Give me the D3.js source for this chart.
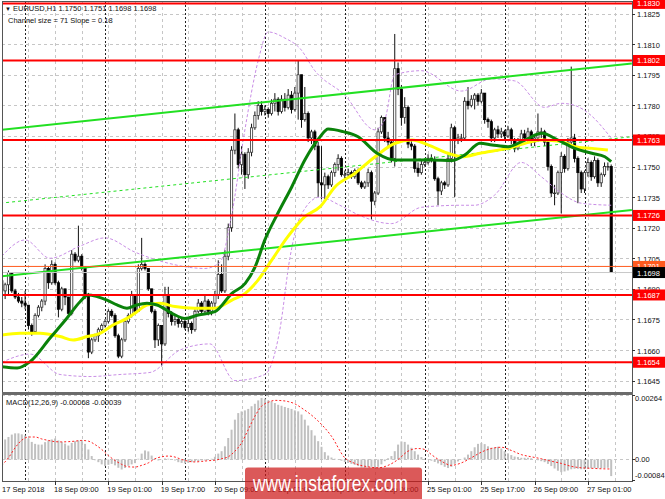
<!DOCTYPE html>
<html><head><meta charset="utf-8">
<script src="https://cdn.jsdelivr.net/npm/d3@7"></script>
<style>body{margin:0;background:#fff}svg{display:block}text{font-family:"Liberation Sans",Arial,sans-serif}</style>
</head><body><svg id="c" width="665" height="499"></svg>
<script>
// ---------- DATA ----------
const firstOpen = 1.1694;
const closes = [1.1689,1.1692,1.1698,1.1689,1.1686,1.1684,1.1683,1.1682,1.1672,1.1669,1.1677,1.1681,1.1684,1.1700,1.1693,1.1702,1.1693,1.1680,1.1690,1.1686,
1.1678,1.1707,1.1704,1.1706,1.1700,1.1687,1.1659,1.1665,1.1667,1.1670,1.1672,1.1674,1.1679,1.1677,1.1667,1.1657,1.1665,1.1674,1.1677,1.1687,
1.1679,1.1700,1.1702,1.1700,1.1690,1.1679,1.1665,1.1672,1.1663,1.1687,1.1678,1.1674,1.1675,1.1673,1.1674,1.1671,1.1673,1.1670,1.1679,1.1683,
1.1679,1.1684,1.1679,1.1683,1.1687,1.1697,1.1689,1.1706,1.1720,1.1758,1.1768,1.1751,1.1756,1.1746,1.1757,1.1769,1.1775,1.1780,1.1777,1.1778,
1.1776,1.1781,1.1783,1.1777,1.1783,1.1779,1.1785,1.1778,1.1786,1.1795,1.1773,1.1776,1.1764,1.1767,1.1760,1.1742,1.1741,1.1745,1.1741,1.1747,
1.1751,1.1754,1.1746,1.1746,1.1747,1.1745,1.1748,1.1742,1.1740,1.1742,1.1747,1.1733,1.1737,1.1767,1.1774,1.1764,1.1762,1.1754,1.1798,1.1788,
1.1774,1.1779,1.1761,1.1760,1.1749,1.1747,1.1751,1.1752,1.1754,1.1753,1.1744,1.1738,1.1742,1.1741,1.1754,1.1769,1.1763,1.1764,1.1764,1.1782,
1.1780,1.1783,1.1785,1.1782,1.1786,1.1773,1.1772,1.1764,1.1768,1.1766,1.1767,1.1765,1.1768,1.1763,1.1759,1.1763,1.1766,1.1764,1.1767,1.1762,
1.1764,1.1767,1.1767,1.1762,1.1750,1.1737,1.1737,1.1747,1.1755,1.1749,1.1762,1.1764,1.1754,1.1747,1.1739,1.1747,1.1752,1.1745,1.1753,1.1742,
1.1746,1.1750,1.1750,1.1698];
const highs = [1.1696,1.1693,1.1699,1.1697,1.1690,1.1688,1.1686,1.1689,1.1682,1.1673,1.1678,1.1682,1.1685,1.1702,1.1701,1.1704,1.1703,1.1694,1.1691,1.1690,
1.1686,1.1709,1.1708,1.1721,1.1707,1.1701,1.1688,1.1666,1.1668,1.1671,1.1673,1.1675,1.1680,1.1680,1.1678,1.1668,1.1666,1.1675,1.1678,1.1689,
1.1686,1.1702,1.1715,1.1703,1.1700,1.1690,1.1680,1.1673,1.1672,1.1691,1.1691,1.1679,1.1677,1.1676,1.1676,1.1675,1.1675,1.1674,1.1680,1.1685,
1.1684,1.1687,1.1685,1.1684,1.1689,1.1704,1.1702,1.1709,1.1722,1.1760,1.1776,1.1769,1.1760,1.1757,1.1759,1.1771,1.1777,1.1782,1.1782,1.1780,
1.1779,1.1783,1.1786,1.1784,1.1785,1.1786,1.1788,1.1787,1.1789,1.1802,1.1795,1.1789,1.1777,1.1768,1.1768,1.1762,1.1760,1.1747,1.1746,1.1748,
1.1752,1.1756,1.1755,1.1748,1.1749,1.1748,1.1749,1.1749,1.1743,1.1743,1.1749,1.1748,1.1738,1.1769,1.1775,1.1774,1.1767,1.1763,1.1815,1.1801,
1.1790,1.1784,1.1780,1.1763,1.1761,1.1752,1.1753,1.1754,1.1756,1.1756,1.1755,1.1745,1.1743,1.1743,1.1756,1.1771,1.1770,1.1766,1.1766,1.1784,
1.1789,1.1785,1.1786,1.1786,1.1788,1.1786,1.1774,1.1773,1.1769,1.1770,1.1769,1.1768,1.1770,1.1769,1.1764,1.1764,1.1768,1.1768,1.1769,1.1768,
1.1766,1.1776,1.1769,1.1768,1.1763,1.1751,1.1741,1.1748,1.1757,1.1756,1.1764,1.1799,1.1766,1.1755,1.1748,1.1748,1.1754,1.1753,1.1755,1.1754,
1.1747,1.1752,1.1752,1.1751];
const lows = [1.1687,1.1685,1.1687,1.1688,1.1685,1.1683,1.1681,1.1680,1.1670,1.1667,1.1668,1.1676,1.1679,1.1682,1.1690,1.1692,1.1692,1.1676,1.1679,1.1682,
1.1676,1.1677,1.1703,1.1703,1.1699,1.1685,1.1656,1.1658,1.1664,1.1664,1.1669,1.1671,1.1673,1.1676,1.1666,1.1656,1.1656,1.1664,1.1673,1.1676,
1.1678,1.1679,1.1699,1.1699,1.1689,1.1678,1.1661,1.1662,1.1652,1.1662,1.1676,1.1672,1.1672,1.1671,1.1671,1.1670,1.1669,1.1668,1.1669,1.1678,
1.1677,1.1678,1.1677,1.1677,1.1681,1.1685,1.1688,1.1688,1.1704,1.1718,1.1756,1.1749,1.1746,1.1739,1.1744,1.1755,1.1768,1.1773,1.1775,1.1775,
1.1774,1.1775,1.1777,1.1775,1.1776,1.1777,1.1778,1.1776,1.1777,1.1773,1.1769,1.1772,1.1762,1.1761,1.1758,1.1735,1.1734,1.1734,1.1739,1.1740,
1.1745,1.1748,1.1745,1.1744,1.1745,1.1744,1.1744,1.1741,1.1739,1.1739,1.1740,1.1724,1.1731,1.1736,1.1766,1.1762,1.1759,1.1752,1.1750,1.1785,
1.1770,1.1771,1.1759,1.1758,1.1747,1.1745,1.1746,1.1750,1.1751,1.1752,1.1743,1.1731,1.1736,1.1739,1.1740,1.1752,1.1735,1.1761,1.1762,1.1763,
1.1778,1.1779,1.1778,1.1780,1.1781,1.1771,1.1769,1.1762,1.1762,1.1764,1.1764,1.1763,1.1764,1.1761,1.1757,1.1758,1.1762,1.1763,1.1762,1.1760,
1.1760,1.1762,1.1764,1.1760,1.1748,1.1735,1.1731,1.1736,1.1727,1.1747,1.1748,1.1759,1.1752,1.1732,1.1737,1.1737,1.1745,1.1743,1.1744,1.1740,
1.1740,1.1745,1.1748,1.1698];

// MACD(12,26,9) main (histogram) and signal [bar, value]
const macdMain = [0.00068,0.00082,0.00092,0.00102,0.00107,0.00107,0.00103,0.00098,0.00086,0.00072,0.00064,0.00061,0.00061,0.00071,0.00078,0.00082,0.00086,0.00078,0.00072,0.00065,
0.00057,0.00068,0.00075,0.00078,0.00079,0.00064,0.00041,0.00014,-0.00003,-0.00011,-0.00020,-0.00027,-0.00022,-0.00018,-0.00024,-0.00034,-0.00041,-0.00035,-0.00026,-0.00020,
-0.00015,0.00003,0.00024,0.00037,0.00033,0.00016,0.00003,-0.00004,-0.00001,0.00004,0.00003,0.00000,-0.00004,-0.00011,-0.00014,-0.00016,-0.00014,-0.00011,-0.00008,-0.00007,
-0.00004,-0.00004,0.00000,0.00003,0.00011,0.00024,0.00034,0.00054,0.00088,0.00122,0.00163,0.00190,0.00197,0.00201,0.00207,0.00218,0.00228,0.00242,0.00252,0.00249,
0.00242,0.00238,0.00231,0.00224,0.00220,0.00215,0.00211,0.00207,0.00201,0.00197,0.00184,0.00163,0.00139,0.00120,0.00098,0.00075,0.00052,0.00030,0.00016,0.00008,
0.00003,-0.00001,-0.00005,-0.00010,-0.00014,-0.00018,-0.00022,-0.00027,-0.00033,-0.00034,-0.00031,-0.00030,-0.00033,-0.00030,-0.00020,-0.00007,0.00005,0.00014,0.00034,0.00061,
0.00074,0.00072,0.00061,0.00048,0.00034,0.00020,0.00010,0.00003,-0.00001,-0.00005,-0.00010,-0.00016,-0.00023,-0.00030,-0.00035,-0.00030,-0.00018,-0.00008,-0.00001,0.00008,
0.00020,0.00034,0.00050,0.00064,0.00068,0.00063,0.00054,0.00048,0.00049,0.00052,0.00045,0.00034,0.00025,0.00018,0.00012,0.00010,0.00007,0.00007,0.00007,0.00005,
0.00000,-0.00003,-0.00007,-0.00011,-0.00018,-0.00027,-0.00037,-0.00046,-0.00052,-0.00049,-0.00045,-0.00040,-0.00038,-0.00038,-0.00040,-0.00040,-0.00038,-0.00036,-0.00035,-0.00036,
-0.00036,-0.00035,-0.00034,-0.00068];
const macdSignal = [[0,-0.00024],[2,0.00007],[4,0.00048],[6,0.00079],[8,0.00092],[10,0.00092],[12,0.00084],[14,0.00078],[16,0.00073],[18,0.00072],[20,0.00073],[22,0.00075],[24,0.00078],[26,0.00075],[28,0.00061],[30,0.00041],[32,0.00016],[34,-0.00004],[36,-0.0002],[38,-0.0003],[40,-0.00031],[42,-0.00024],[44,-0.00014],[46,0.00003],[48,0.00011],[50,0.00014],[52,0.0001],[54,0],[56,-0.00007],[58,-0.0001],[60,-0.00008],[62,-0.00005],[64,-0.00003],[66,0.00003],[68,0.00011],[70,0.00034],[72,0.00068],[74,0.00122],[76,0.00177],[78,0.00218],[80,0.00234],[82,0.00242],[84,0.00241],[86,0.00237],[88,0.00228],[90,0.00211],[94,0.0017],[99,0.00095],[103,0.00007],[106,-0.00016],[110,-0.0003],[113,-0.00034],[116,-0.00024],[119,0],[122,0.00034],[125,0.00045],[127,0.00041],[129,0.0002],[132,-0.00007],[135,-0.00024],[138,-0.00014],[141,0.00007],[144,0.0003],[147,0.00045],[150,0.0005],[153,0.00037],[156,0.0002],[159,0.00011],[162,0.00003],[165,-0.00007],[168,-0.00016],[171,-0.00028],[174,-0.00034],[177,-0.00036],[180,-0.00038],[183,-0.00039]];

// moving averages [bar, price]
const maGreen = [[0,1.16518],[4.6,1.16512],[8.5,1.16543],[14.5,1.16659],[19.6,1.16757],[23.5,1.16837],[25.9,1.1687],[28.6,1.16862],[31.6,1.16845],[34.6,1.16821],[37.6,1.16805],[40.6,1.16821],[43.6,1.16829],[46.6,1.16821],[51.1,1.1678],[55,1.16755],[59,1.16772],[64,1.16788],[69.1,1.16878],[73.1,1.16927],[76.1,1.17009],[79,1.1714],[82.9,1.17271],[87.1,1.17401],[91,1.17532],[95.6,1.17646],[98,1.17684],[102.5,1.17671],[107,1.17646],[112.7,1.17565],[118.1,1.17532],[124.1,1.17532],[129.2,1.17532],[135.2,1.17529],[139.1,1.17557],[143.6,1.17614],[147.2,1.17606],[152,1.17597],[157.1,1.1763],[162.2,1.17663],[167,1.1763],[172.1,1.17589],[177.2,1.17565],[181.1,1.17548],[183,1.17524]];
const maYellow = [[0,1.16674],[5.5,1.16682],[11.5,1.16682],[17.5,1.16666],[21.4,1.16649],[25.6,1.16666],[29.5,1.16682],[33.4,1.16723],[37.6,1.16755],[40.6,1.16788],[43.6,1.16821],[47.5,1.16829],[52,1.16813],[58,1.16805],[64,1.16805],[69.1,1.16845],[73.1,1.16878],[77,1.16944],[81.1,1.17042],[85.9,1.17156],[91,1.17254],[95.6,1.17303],[100.1,1.17401],[106.1,1.17467],[112.1,1.17548],[118.1,1.17614],[123.2,1.1763],[128,1.17606],[134,1.17565],[138.2,1.17548],[143.6,1.17565],[152,1.17589],[162.2,1.1763],[168.2,1.17622],[172.1,1.17597],[177.2,1.17589],[182,1.17581]];
// envelope bands [bar, price]
const bandUpper = [[0,1.1706],[7,1.1714],[14.5,1.1705],[23.5,1.1711],[31,1.1715],[40,1.1708],[49,1.1703],[61,1.1700],[65.5,1.1703],[69,1.1726],[73,1.1768],[77,1.1802],[80,1.1816],[85,1.1813],[89.5,1.1808],[94,1.1797],[103,1.1785],[112,1.1768],[115,1.1773],[118,1.1795],[126,1.1797],[138,1.1787],[147,1.1793],[154,1.1792],[163,1.1779],[168,1.1781],[172,1.1780],[177,1.1775],[182,1.1766],[183,1.1764]];
const bandLower = [[0,1.1654],[8.5,1.1658],[17.5,1.1648],[26.5,1.1647],[35.5,1.1648],[44.5,1.1649],[53.5,1.1660],[62.5,1.1663],[70,1.1645],[79,1.1648],[83.5,1.1670],[86.5,1.1705],[89.5,1.1725],[95.5,1.1735],[101.5,1.1731],[107.5,1.1726],[117,1.1722],[126,1.1730],[138,1.1731],[142,1.1731],[148,1.1736],[156,1.1752],[162,1.1745],[168,1.1737],[174,1.1732],[183,1.1731]];

// regression channel [bar, price] at both ends
const chanUpper = [[-0.5,1.17679],[189.2,1.18005]];
const chanLower = [[-0.5,1.16961],[189.2,1.17287]];

const levels = [1.1830,1.1802,1.1763,1.1726,1.1687,1.1654];
const priceTicks = [1.1825,1.1810,1.1795,1.1780,1.1765,1.1750,1.1735,1.1720,1.1705,1.1690,1.1675,1.1660,1.1645];
const timeTickBars = [16,32,48,64,80,96,112,128,144,160,176];
const timeTickLabels = ["18 Sep 09:00","19 Sep 01:00","19 Sep 17:00","20 Sep 09:00","21 Sep 01:00","21 Sep 17:00","24 Sep 09:00","25 Sep 01:00","25 Sep 17:00","26 Sep 09:00","27 Sep 01:00"];
const dayStartBars = [7,31,55,79,103,127,151,175];
const bid = 1.1698, ask = 1.1701;
const macdTicks = [0.00264,0.00,-0.00084];

// ---------- DRAW ----------
const svg = d3.select('#c');
const PX0=2, PX1=632, PY0=1, PY1=392, MY0=394, MY1=481;
const x = d3.scaleLinear().domain([0,183]).range([1.8,611.2]);
const y = d3.scaleLinear().domain([1.1640,1.1830]).range([390.8,3.4]);
const ym = d3.scaleLinear().domain([-0.00084,0.00264]).range([480,395]);
const FS = 7.5;

const defs = svg.append('defs');
defs.append('clipPath').attr('id','cm').append('rect').attr('x',PX0).attr('y',PY0).attr('width',PX1-PX0).attr('height',PY1-PY0);
defs.append('clipPath').attr('id','cd').append('rect').attr('x',PX0).attr('y',MY0).attr('width',PX1-PX0).attr('height',MY1-MY0);

const gm = svg.append('g').attr('clip-path','url(#cm)');
const gd = svg.append('g').attr('clip-path','url(#cd)');

// grid
const gridBars = d3.range(8,200,8);
[gm,gd].forEach((g,k)=>{
  g.selectAll('line.vg').data(gridBars).join('line').attr('class','vg')
   .attr('x1',d=>Math.round(x(d))+0.5).attr('x2',d=>Math.round(x(d))+0.5)
   .attr('y1',k?MY0:PY0).attr('y2',k?MY1:PY1)
   .attr('stroke','#c6c6c6').attr('stroke-dasharray','3,3');
});
gm.selectAll('line.hg').data(priceTicks).join('line').attr('class','hg')
  .attr('x1',PX0).attr('x2',PX1).attr('y1',d=>Math.round(y(d))+0.5).attr('y2',d=>Math.round(y(d))+0.5)
  .attr('stroke','#c6c6c6').attr('stroke-dasharray','3,3');
gd.selectAll('line.hg').data([0.00264,0]).join('line').attr('class','hg')
  .attr('x1',PX0).attr('x2',PX1).attr('y1',d=>Math.round(ym(d))+0.5).attr('y2',d=>Math.round(ym(d))+0.5)
  .attr('stroke','#c6c6c6').attr('stroke-dasharray','3,3');

// day separators
[gm,gd].forEach((g,k)=>{
  g.selectAll('line.ds').data(dayStartBars).join('line').attr('class','ds')
   .attr('x1',d=>Math.round(x(d))+0.5).attr('x2',d=>Math.round(x(d))+0.5)
   .attr('y1',k?MY0:PY0).attr('y2',k?MY1:PY1)
   .attr('stroke','#222').attr('stroke-dasharray','2,2');
});

// candles
const bars = closes.map((c,i)=>{
  const o = i===0?firstOpen:closes[i-1];
  return {i,o,c,h:Math.max(highs[i],o,c),l:Math.min(lows[i],o,c)};
});
const cg = gm.append('g');
cg.selectAll('line.wk').data(bars).join('line').attr('class','wk')
  .attr('x1',d=>x(d.i)).attr('x2',d=>x(d.i)).attr('y1',d=>y(d.h)).attr('y2',d=>y(d.l))
  .attr('stroke','#111').attr('stroke-width',1);
cg.selectAll('rect.bd').data(bars).join('rect').attr('class','bd')
  .attr('x',d=>x(d.i)-1.1).attr('width',2.2)
  .attr('y',d=>y(Math.max(d.o,d.c))).attr('height',d=>Math.max(0.6,Math.abs(y(d.o)-y(d.c))))
  .attr('fill',d=>d.c>=d.o?'#fff':'#000').attr('stroke',d=>d.c>=d.o?'#333':'#000').attr('stroke-width',0.8);

// bands
const lineP = d3.line().x(d=>x(d[0])).y(d=>y(d[1])).curve(d3.curveMonotoneX);
[bandUpper,bandLower].forEach(b=>{
  gm.append('path').attr('d',lineP(b)).attr('fill','none').attr('stroke','#c98ee6').attr('stroke-width',1).attr('stroke-dasharray','3,2');
});
// channel
const lineS = d3.line().x(d=>x(d[0])).y(d=>y(d[1]));
gm.append('path').attr('d',lineS(chanUpper)).attr('stroke','#22e022').attr('stroke-width',2).attr('fill','none');
gm.append('path').attr('d',lineS(chanLower)).attr('stroke','#22e022').attr('stroke-width',2).attr('fill','none');
const chanMid = chanUpper.map((d,k)=>[d[0],(d[1]+chanLower[k][1])/2]);
gm.append('path').attr('d',lineS(chanMid)).attr('stroke','#22e022').attr('stroke-width',1).attr('stroke-dasharray','3,3').attr('fill','none');
// MAs
gm.append('path').attr('d',lineP(maYellow)).attr('fill','none').attr('stroke','#ffff00').attr('stroke-width',3);
gm.append('path').attr('d',lineP(maGreen)).attr('fill','none').attr('stroke','#0a820a').attr('stroke-width',3);

// ask/bid lines
gm.append('line').attr('x1',PX0).attr('x2',PX1).attr('y1',y(ask)).attr('y2',y(ask)).attr('stroke','#ff5a1e').attr('stroke-width',1);
gm.append('line').attr('x1',PX0).attr('x2',PX1).attr('y1',y(bid)).attr('y2',y(bid)).attr('stroke','#c8c8c8').attr('stroke-width',1);
// levels
gm.selectAll('line.lv').data(levels).join('line').attr('class','lv')
  .attr('x1',PX0).attr('x2',PX1+4).attr('y1',d=>y(d)).attr('y2',d=>y(d))
  .attr('stroke','#ff0000').attr('stroke-width',2);

// MACD
gd.selectAll('rect.mh').data(macdMain).join('rect').attr('class','mh')
  .attr('x',(d,i)=>x(i)-1).attr('width',2)
  .attr('y',d=>Math.min(ym(d),ym(0))).attr('height',d=>Math.abs(ym(d)-ym(0)))
  .attr('fill','#c0c0c0');
gd.append('path').attr('d',d3.line().x(d=>x(d[0])).y(d=>ym(d[1])).curve(d3.curveMonotoneX)(macdSignal))
  .attr('fill','none').attr('stroke','#ff2020').attr('stroke-width',1).attr('stroke-dasharray','2,2');

// frames
svg.append('rect').attr('x',PX0+0.5).attr('y',PY0+0.5).attr('width',PX1-PX0).attr('height',PY1-PY0).attr('fill','none').attr('stroke','#555');
svg.append('rect').attr('x',PX0+0.5).attr('y',MY0+0.5).attr('width',PX1-PX0).attr('height',MY1-MY0).attr('fill','none').attr('stroke','#555');
svg.append('rect').attr('x',PX0).attr('y',PY1).attr('width',PX1-PX0+1).attr('height',MY0-PY1+1).attr('fill','#6b6b6b');

// right price axis
const ra = svg.append('g');
ra.selectAll('line.pt').data(priceTicks).join('line').attr('class','pt')
  .attr('x1',PX1).attr('x2',PX1+3).attr('y1',d=>Math.round(y(d))+0.5).attr('y2',d=>Math.round(y(d))+0.5).attr('stroke','#333');
ra.selectAll('text.pt').data(priceTicks).join('text').attr('class','pt')
  .attr('x',PX1+5).attr('y',d=>y(d)+3.5).attr('font-size',FS).attr('fill','#111').text(d=>d.toFixed(4));
function tag(v,bg,fg){
  const g=ra.append('g');
  g.append('rect').attr('x',PX1+1).attr('y',y(v)-5.5).attr('width',665-PX1-1).attr('height',11).attr('fill',bg);
  g.append('text').attr('x',PX1+5).attr('y',y(v)+3).attr('font-size',FS).attr('fill',fg).text(v.toFixed(4));
}
levels.forEach(v=>tag(v,'#ff0000','#fff'));
tag(ask,'#ff5a1e','#fff');
tag(bid,'#000','#fff');

// MACD axis
svg.selectAll('line.mk').data(macdTicks).join('line').attr('class','mk')
  .attr('x1',PX1).attr('x2',PX1+3).attr('y1',d=>Math.round(ym(d))+0.5).attr('y2',d=>Math.round(ym(d))+0.5).attr('stroke','#333');
svg.selectAll('text.mt').data(macdTicks).join('text').attr('class','mt')
  .attr('x',PX1+3).attr('y',(d,i)=>i===0?ym(d)+6:(i===2?ym(d)-2:ym(d)+3)).attr('font-size',FS).attr('fill','#111')
  .text(d=>d===0?'0.00':d.toFixed(5));

// time axis
svg.selectAll('line.tt').data(timeTickBars).join('line').attr('class','tt')
  .attr('x1',d=>Math.round(x(d))+0.5).attr('x2',d=>Math.round(x(d))+0.5).attr('y1',MY1).attr('y2',MY1+4).attr('stroke','#333');
svg.selectAll('text.tl').data(timeTickBars).join('text').attr('class','tl')
  .attr('x',d=>x(d)-1).attr('y',492).attr('font-size',FS).attr('fill','#111').text((d,i)=>timeTickLabels[i]);
svg.append('text').attr('x',2).attr('y',492).attr('font-size',FS).attr('fill','#111').text('17 Sep 2018');

// titles
svg.append('text').attr('x',5).attr('y',11).attr('font-size',6).attr('fill','#111').text('▼');
svg.append('text').attr('x',13).attr('y',11).attr('font-size',FS).attr('fill','#111').text('EURUSD,H1  1.1750 1.1751 1.1698 1.1698');
svg.append('text').attr('x',8).attr('y',23).attr('font-size',FS).attr('fill','#111').text('Channel size = 71 Slope = 0.18');
svg.append('text').attr('x',6).attr('y',405).attr('font-size',FS).attr('fill','#111').text('MACD(12,26,9) -0.00068 -0.00039');

// watermark
svg.append('rect').attr('x',245).attr('y',467.5).attr('width',177).attr('height',40).attr('rx',3).attr('fill','rgba(205,25,25,0.72)');
svg.append('text').attr('x',253).attr('y',491).attr('font-size',22).attr('fill','#fff')
  .attr('textLength',155).attr('lengthAdjust','spacingAndGlyphs').text('www.instaforex.com');
</script></body></html>
